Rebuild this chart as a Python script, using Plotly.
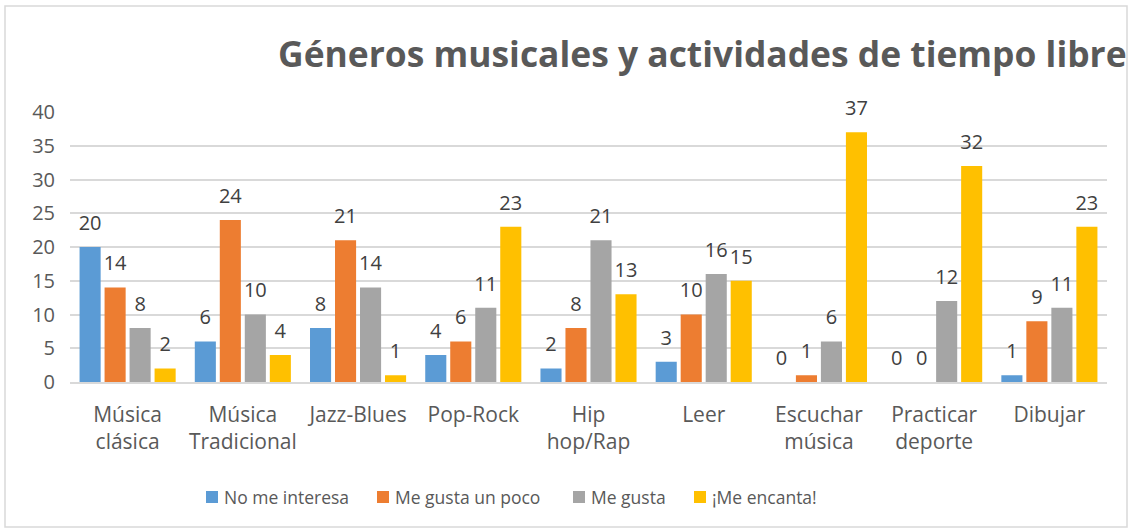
import plotly.graph_objects as go

categories = ["Música<br>clásica", "Música<br>Tradicional", "Jazz-Blues", "Pop-Rock", "Hip<br>hop/Rap",
              "Leer", "Escuchar<br>música", "Practicar<br>deporte", "Dibujar"]
no_me_interesa = [20, 6, 8, 4, 2, 3, 0, 0, 1]
me_gusta_poco = [14, 24, 21, 6, 8, 10, 1, 0, 9]
me_gusta = [8, 10, 14, 11, 21, 16, 6, 12, 11]
me_encanta = [2, 4, 1, 23, 13, 15, 37, 32, 23]
series_names = ["No me interesa", "Me gusta un poco", "Me gusta", "¡Me encanta!"]
colors = ["#5b9bd5", "#ed7d31", "#a5a5a5", "#ffc000"]
y_ticks = [0, 5, 10, 15, 20, 25, 30, 35, 40]

FONT = "Open Sans"
L, R, T, B = 70, 25, 112, 150
W, H = 1132, 532
pw, ph = W - L - R, H - T - B

def px(x):
    return (x - L) / pw

def py(y):
    return (H - B - y) / ph

n = len(categories)
xs = list(range(n))
pitch = 0.217
bar_w = 0.183

fig = go.Figure()
all_series = [no_me_interesa, me_gusta_poco, me_gusta, me_encanta]
for k, (name, vals, col) in enumerate(zip(series_names, all_series, colors)):
    off = (k - 1.5) * pitch
    fig.add_trace(go.Bar(
        x=xs, y=vals, name=name, width=bar_w, offset=off - bar_w / 2,
        marker=dict(color=col, line=dict(width=0)), showlegend=False,
    ))
    fig.add_trace(go.Scatter(
        x=[x + off for x in xs], y=vals, mode="markers+text", text=[str(v) for v in vals],
        textposition="top center", marker=dict(size=18, opacity=0), cliponaxis=False,
        textfont=dict(size=20, color="#404040", family=FONT), showlegend=False, hoverinfo="skip",
    ))

shapes = [dict(type="rect", xref="paper", yref="paper", x0=px(5), x1=px(1127), y0=py(527), y1=py(6),
               line=dict(color="#d9d9d9", width=1.5), fillcolor="rgba(0,0,0,0)", layer="below")]
annotations = [dict(text="<b>Géneros musicales y actividades de tiempo libre</b>", xref="paper", yref="paper",
                    x=px(702), y=py(53), xanchor="center", yanchor="middle", showarrow=False,
                    font=dict(size=35.4, color="#595959", family=FONT))]

# manual legend
leg_x = [206, 377, 573, 694]
for name, col, lx in zip(series_names, colors, leg_x):
    shapes.append(dict(type="rect", xref="paper", yref="paper", x0=px(lx), x1=px(lx + 12),
                       y0=py(503), y1=py(491), fillcolor=col, line=dict(width=0)))
    annotations.append(dict(text=name, xref="paper", yref="paper", x=px(lx + 16), y=py(497),
                            xanchor="left", yanchor="middle", showarrow=False,
                            font=dict(size=17.5, color="#595959", family=FONT)))

fig.update_layout(
    width=W, height=H,
    margin=dict(l=L, r=R, t=T, b=B),
    paper_bgcolor="white", plot_bgcolor="white",
    font=dict(family=FONT, color="#595959", size=20),
    showlegend=False,
    xaxis=dict(range=[-0.5, n - 0.5], tickvals=xs, ticktext=categories, showgrid=False,
               showline=True, linecolor="#d9d9d9", linewidth=1.5, ticks="", zeroline=False,
               ticklabelstandoff=13, tickfont=dict(size=21, color="#595959")),
    yaxis=dict(range=[0, 40], tickvals=y_ticks, showgrid=True, gridcolor="#d9d9d9", gridwidth=1.5,
               zeroline=False, showline=False, ticks="", ticklabelstandoff=14,
               tickfont=dict(size=20, color="#595959")),
    shapes=shapes,
    annotations=annotations,
)
fig.write_html("out.html", config={"displayModeBar": False},
               post_script="document.body.style.margin='0px';")
